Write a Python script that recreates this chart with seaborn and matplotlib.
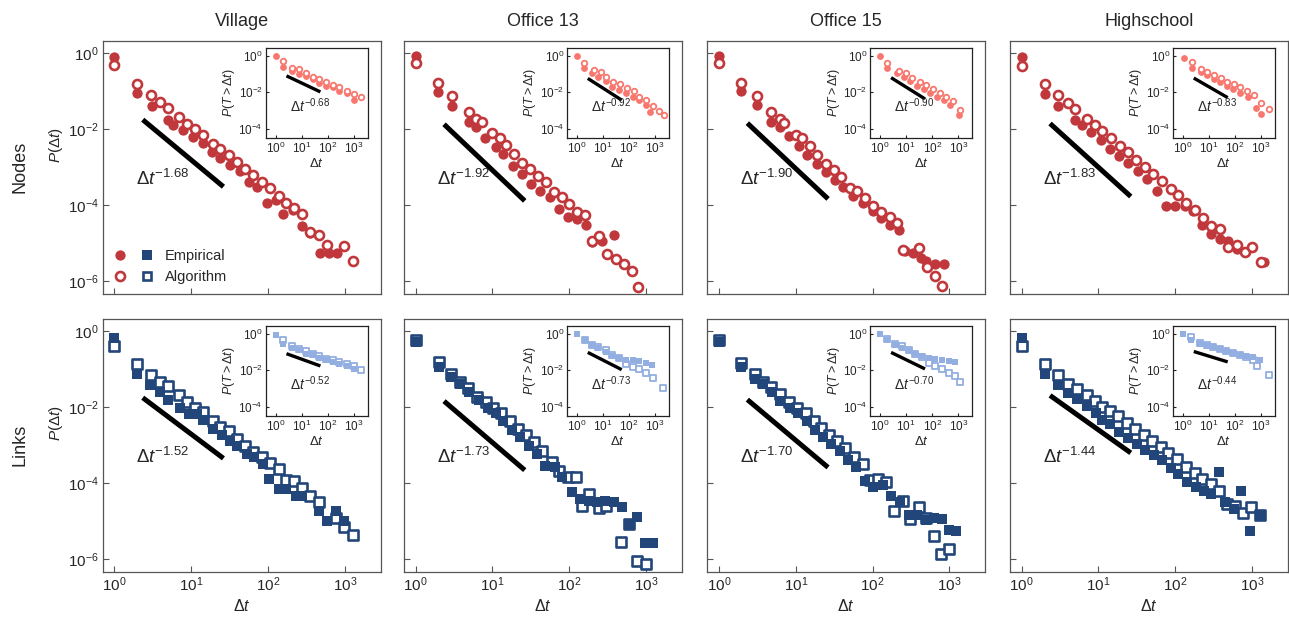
import numpy as np
import matplotlib
matplotlib.use("Agg")
import matplotlib.pyplot as plt
import seaborn as sns
from matplotlib.lines import Line2D
from matplotlib.legend_handler import HandlerTuple
from matplotlib.ticker import NullLocator

# Column / row names
datasets = ["Village", "Office 13", "Office 15", "Highschool"]
rows = ["Nodes", "Links"]

# fitted exponents printed on the panels
node_exp = [1.68, 1.92, 1.90, 1.83]
link_exp = [1.52, 1.73, 1.70, 1.44]
node_cc_exp = [0.68, 0.92, 0.90, 0.83]
link_cc_exp = [0.52, 0.73, 0.70, 0.44]

# ---- main panels: log10(dt), log10(P(dt)) ----
# Village, nodes
vn_emp_x = [0, 0.30, 0.49, 0.70, 0.77, 0.89, 1.03, 1.15, 1.27, 1.38, 1.51, 1.63, 1.75, 1.86, 1.99, 2.10, 2.20, 2.33, 2.44, 2.55, 2.68, 2.79, 2.90]
vn_emp_y = [-0.09, -1.05, -1.39, -1.75, -1.89, -2.02, -2.21, -2.37, -2.61, -2.76, -2.94, -3.11, -3.38, -3.51, -3.95, -3.86, -4.24, -4.12, -4.56, -4.74, -5.25, -5.25, -5.25]
vn_alg_x = [0, 0.30, 0.48, 0.60, 0.70, 0.84, 0.95, 1.05, 1.15, 1.28, 1.38, 1.49, 1.60, 1.70, 1.81, 1.92, 2.03, 2.14, 2.24, 2.34, 2.44, 2.55, 2.66, 2.77, 2.99, 3.10]
vn_alg_y = [-0.32, -0.80, -1.09, -1.28, -1.43, -1.68, -1.87, -2.00, -2.16, -2.38, -2.53, -2.68, -2.85, -3.05, -3.21, -3.40, -3.56, -3.75, -3.93, -4.08, -4.24, -4.70, -4.78, -5.04, -5.07, -5.48]
# Office 13, nodes
o13n_emp_x = [0, 0.29, 0.47, 0.70, 0.78, 0.90, 1.04, 1.14, 1.27, 1.39, 1.50, 1.62, 1.75, 1.86, 1.98, 2.10, 2.22, 2.29, 2.43, 2.58]
o13n_emp_y = [-0.07, -1.01, -1.38, -1.82, -1.94, -2.22, -2.48, -2.66, -2.98, -3.17, -3.44, -3.63, -3.79, -4.10, -4.30, -4.36, -4.51, -4.98, -4.93, -4.78]
o13n_alg_x = [0, 0.29, 0.47, 0.70, 0.78, 0.86, 1.00, 1.10, 1.17, 1.28, 1.39, 1.49, 1.59, 1.70, 1.80, 1.90, 2.00, 2.10, 2.21, 2.29, 2.38, 2.49, 2.61, 2.71, 2.82, 2.90]
o13n_alg_y = [-0.25, -0.79, -1.12, -1.54, -1.72, -1.81, -2.10, -2.22, -2.42, -2.64, -2.89, -3.04, -3.22, -3.39, -3.66, -3.79, -3.96, -4.17, -4.26, -4.95, -4.80, -5.29, -5.42, -5.55, -5.73, -6.15]
# Office 15, nodes
o15n_emp_x = [0, 0.29, 0.49, 0.68, 0.79, 0.91, 1.04, 1.14, 1.27, 1.39, 1.51, 1.62, 1.74, 1.88, 2.00, 2.11, 2.23, 2.34, 2.42, 2.52, 2.63, 2.70, 2.81, 2.93]
o15n_emp_y = [-0.07, -0.99, -1.37, -1.81, -1.94, -2.19, -2.45, -2.69, -2.91, -3.13, -3.34, -3.53, -3.75, -3.93, -4.15, -4.35, -4.52, -4.66, -5.21, -5.25, -5.38, -5.47, -5.56, -5.56]
o15n_alg_x = [0, 0.29, 0.49, 0.68, 0.79, 0.85, 1.00, 1.08, 1.18, 1.28, 1.39, 1.50, 1.59, 1.71, 1.80, 1.90, 2.00, 2.11, 2.22, 2.32, 2.39, 2.60, 2.71, 2.81, 2.90]
o15n_alg_y = [-0.25, -0.79, -1.12, -1.54, -1.72, -1.83, -2.14, -2.23, -2.43, -2.67, -2.91, -3.07, -3.25, -3.55, -3.62, -3.82, -4.02, -4.17, -4.32, -4.46, -5.19, -5.12, -5.63, -5.87, -6.13]
# Highschool, nodes
hsn_emp_x = [0, 0.30, 0.48, 0.70, 0.78, 0.90, 1.03, 1.15, 1.27, 1.38, 1.51, 1.63, 1.76, 1.88, 2.00, 2.12, 2.23, 2.35, 2.46, 2.58, 2.69, 2.80, 2.91, 3.15]
hsn_emp_y = [-0.11, -1.07, -1.38, -1.76, -1.89, -2.07, -2.29, -2.51, -2.70, -2.90, -3.10, -3.30, -3.63, -4.02, -4.02, -4.02, -4.16, -4.53, -4.75, -4.88, -4.95, -5.15, -5.23, -5.50]
hsn_alg_x = [0, 0.30, 0.48, 0.61, 0.69, 0.85, 0.96, 1.05, 1.16, 1.28, 1.38, 1.49, 1.60, 1.71, 1.83, 1.94, 2.04, 2.14, 2.25, 2.36, 2.47, 2.58, 2.69, 2.80, 2.91, 3.00, 3.11]
hsn_alg_y = [-0.33, -0.81, -1.10, -1.30, -1.47, -1.73, -1.89, -2.05, -2.23, -2.44, -2.59, -2.81, -2.99, -3.17, -3.37, -3.58, -3.74, -3.93, -4.12, -4.34, -4.55, -4.62, -5.10, -5.06, -5.23, -5.10, -5.50]
# Village, links
vl_emp_x = [0, 0.29, 0.47, 0.59, 0.70, 0.85, 0.97, 1.07, 1.16, 1.28, 1.40, 1.51, 1.60, 1.72, 1.82, 1.94, 2.01, 2.14, 2.24, 2.36, 2.44, 2.66, 2.77, 2.88, 2.99]
vl_emp_y = [-0.17, -1.13, -1.42, -1.60, -1.80, -2.01, -2.17, -2.19, -2.33, -2.57, -2.72, -2.88, -3.03, -3.23, -3.32, -3.49, -3.89, -4.15, -4.15, -4.33, -4.35, -4.72, -5.00, -4.74, -5.00]
vl_alg_x = [0, 0.30, 0.48, 0.60, 0.70, 0.84, 0.95, 1.05, 1.15, 1.28, 1.38, 1.49, 1.60, 1.70, 1.81, 1.92, 2.03, 2.14, 2.24, 2.34, 2.44, 2.55, 2.66, 2.88, 2.99, 3.10]
vl_alg_y = [-0.39, -0.87, -1.14, -1.34, -1.45, -1.69, -1.86, -2.01, -2.13, -2.37, -2.52, -2.63, -2.83, -3.03, -3.18, -3.32, -3.47, -3.62, -3.91, -3.93, -4.12, -4.35, -4.50, -4.92, -5.16, -5.36]
# Office 13, links
o13l_emp_x = [0, 0.30, 0.46, 0.58, 0.70, 0.82, 0.94, 1.04, 1.14, 1.25, 1.36, 1.47, 1.58, 1.69, 1.81, 1.91, 2.03, 2.14, 2.25, 2.36, 2.47, 2.58, 2.68, 2.77, 2.88, 2.99, 3.09]
o13l_emp_y = [-0.28, -0.94, -1.20, -1.38, -1.60, -1.82, -2.02, -2.15, -2.37, -2.59, -2.79, -3.01, -3.23, -3.54, -3.58, -3.84, -4.24, -4.42, -4.46, -4.50, -4.46, -4.50, -4.62, -5.07, -4.88, -5.58, -5.58]
o13l_alg_x = [0, 0.30, 0.46, 0.58, 0.68, 0.80, 0.91, 1.01, 1.11, 1.23, 1.33, 1.43, 1.54, 1.64, 1.77, 1.87, 1.98, 2.09, 2.17, 2.26, 2.38, 2.48, 2.67, 2.77, 2.88, 3.00]
o13l_alg_y = [-0.24, -0.81, -1.12, -1.34, -1.49, -1.72, -1.86, -2.01, -2.15, -2.37, -2.57, -2.72, -2.92, -3.14, -3.45, -3.67, -3.83, -3.84, -4.59, -4.28, -4.64, -4.59, -5.56, -5.07, -6.04, -6.13]
# Office 15, links
o15l_emp_x = [0, 0.29, 0.47, 0.58, 0.69, 0.80, 0.92, 1.03, 1.14, 1.25, 1.36, 1.46, 1.58, 1.68, 1.78, 1.90, 2.01, 2.13, 2.24, 2.36, 2.47, 2.58, 2.70, 2.80, 2.90, 3.00, 3.09]
o15l_emp_y = [-0.28, -0.94, -1.25, -1.40, -1.60, -1.84, -2.01, -2.15, -2.37, -2.59, -2.79, -2.98, -3.14, -3.40, -3.58, -3.93, -4.11, -4.04, -4.33, -4.50, -4.83, -4.85, -4.97, -4.92, -4.94, -5.23, -5.27]
o15l_alg_x = [0, 0.29, 0.47, 0.58, 0.68, 0.79, 0.91, 1.02, 1.13, 1.24, 1.33, 1.43, 1.54, 1.64, 1.76, 1.87, 1.97, 2.07, 2.18, 2.28, 2.39, 2.48, 2.60, 2.69, 2.80, 2.89, 2.99]
o15l_alg_y = [-0.24, -0.84, -1.12, -1.34, -1.47, -1.64, -1.86, -2.01, -2.15, -2.37, -2.54, -2.72, -2.88, -3.07, -3.32, -3.49, -3.91, -3.89, -3.98, -4.72, -4.46, -4.94, -4.62, -4.92, -5.38, -5.87, -5.73]
# Highschool, links
hsl_emp_x = [0, 0.30, 0.47, 0.61, 0.72, 0.85, 0.97, 1.05, 1.15, 1.27, 1.38, 1.50, 1.61, 1.72, 1.83, 1.94, 2.04, 2.15, 2.27, 2.37, 2.47, 2.57, 2.64, 2.76, 2.86, 2.97, 3.10]
hsl_emp_y = [-0.17, -1.12, -1.42, -1.63, -1.78, -1.98, -2.15, -2.33, -2.44, -2.66, -2.81, -2.98, -3.12, -3.25, -3.40, -3.60, -3.77, -3.98, -4.11, -4.20, -4.28, -3.71, -4.50, -4.68, -4.20, -5.25, -4.85]
hsl_alg_x = [0, 0.30, 0.47, 0.60, 0.72, 0.85, 0.96, 1.04, 1.15, 1.26, 1.37, 1.48, 1.59, 1.70, 1.82, 1.91, 2.02, 2.14, 2.25, 2.35, 2.46, 2.57, 2.67, 2.78, 2.88, 2.98, 3.10]
hsl_alg_y = [-0.39, -0.87, -1.14, -1.38, -1.51, -1.69, -1.84, -2.00, -2.10, -2.22, -2.42, -2.57, -2.72, -2.89, -3.05, -3.21, -3.36, -3.58, -3.74, -3.89, -4.02, -4.21, -4.55, -4.59, -4.79, -4.62, -4.85]

# ---- insets: log10(dt), log10(P(T > dt)) ----
vn_cc_emp_x = [0, 0.27, 0.62, 0.90, 1.15, 1.42, 1.67, 1.94, 2.19, 2.45, 2.73, 3.01]
vn_cc_emp_y = [0, -0.59, -0.83, -1.01, -1.10, -1.28, -1.47, -1.65, -1.74, -1.93, -2.06, -2.42]
vn_cc_alg_x = [0.27, 0.62, 0.90, 1.15, 1.42, 1.67, 1.94, 2.19, 2.45, 2.73, 3.01, 3.28]
vn_cc_alg_y = [-0.28, -0.64, -0.73, -0.92, -1.14, -1.25, -1.43, -1.58, -1.74, -1.93, -2.11, -2.29]
o13n_cc_emp_x = [0, 0.27, 0.58, 0.82, 1.10, 1.36, 1.62, 1.90, 2.16, 2.40, 2.66, 2.79]
o13n_cc_emp_y = [0, -0.64, -0.96, -1.18, -1.38, -1.69, -1.87, -2.05, -2.24, -2.45, -2.69, -3.07]
o13n_cc_alg_x = [0.27, 0.66, 0.92, 1.10, 1.40, 1.66, 1.92, 2.18, 2.40, 2.66, 2.92, 3.16, 3.35]
o13n_cc_alg_y = [-0.38, -0.78, -0.91, -1.18, -1.42, -1.55, -1.78, -1.96, -2.24, -2.45, -2.78, -3.05, -3.25]
o15n_cc_emp_x = [0, 0.28, 0.64, 0.90, 1.15, 1.41, 1.67, 1.92, 2.18, 2.44, 2.69, 3.01]
o15n_cc_emp_y = [0, -0.64, -0.96, -1.18, -1.38, -1.65, -1.84, -2.02, -2.24, -2.45, -2.69, -3.24]
o15n_cc_alg_x = [0.28, 0.73, 0.99, 1.24, 1.51, 1.76, 2.03, 2.28, 2.54, 2.79, 3.05]
o15n_cc_alg_y = [-0.38, -0.82, -0.96, -1.24, -1.42, -1.62, -1.84, -2.05, -2.24, -2.47, -2.96]
hsn_cc_emp_x = [0.04, 0.34, 0.69, 0.94, 1.19, 1.44, 1.69, 1.94, 2.21, 2.50, 2.79, 3.00]
hsn_cc_emp_y = [-0.09, -0.66, -0.87, -1.08, -1.25, -1.43, -1.65, -1.83, -2.03, -2.26, -2.87, -3.22]
hsn_cc_alg_x = [0.34, 0.71, 0.94, 1.21, 1.46, 1.71, 1.96, 2.21, 2.46, 2.71, 3.00, 3.29]
hsn_cc_alg_y = [-0.35, -0.70, -0.87, -1.04, -1.22, -1.43, -1.57, -1.74, -1.95, -2.17, -2.61, -2.90]
vl_cc_emp_x = [0, 0.27, 0.62, 0.90, 1.15, 1.42, 1.67, 1.94, 2.19, 2.45, 2.73, 3.01]
vl_cc_emp_y = [-0.04, -0.55, -0.76, -0.91, -1.09, -1.18, -1.31, -1.45, -1.55, -1.64, -1.78, -1.91]
vl_cc_alg_x = [0.27, 0.62, 0.90, 1.15, 1.42, 1.67, 1.94, 2.19, 2.45, 2.73, 3.01, 3.28]
vl_cc_alg_y = [-0.36, -0.64, -0.82, -0.95, -1.09, -1.24, -1.36, -1.45, -1.55, -1.64, -1.78, -2.00]
o13l_cc_emp_x = [0, 0.30, 0.58, 0.82, 1.10, 1.36, 1.62, 1.90, 2.16, 2.40, 2.66, 2.90]
o13l_cc_emp_y = [0, -0.33, -0.60, -0.78, -1.02, -1.20, -1.33, -1.42, -1.45, -1.51, -1.60, -1.69]
o13l_cc_alg_x = [0.30, 0.58, 0.82, 1.10, 1.36, 1.62, 1.90, 2.16, 2.40, 2.66, 2.92, 3.31]
o13l_cc_alg_y = [-0.36, -0.60, -0.73, -0.91, -1.15, -1.33, -1.64, -1.82, -1.96, -2.18, -2.42, -2.96]
o15l_cc_emp_x = [0, 0.28, 0.58, 0.83, 1.09, 1.35, 1.60, 1.86, 2.12, 2.37, 2.63, 2.88]
o15l_cc_emp_y = [0, -0.33, -0.60, -0.78, -0.96, -1.09, -1.20, -1.33, -1.38, -1.42, -1.47, -1.55]
o15l_cc_alg_x = [0.28, 0.58, 0.83, 1.09, 1.35, 1.60, 1.86, 2.12, 2.37, 2.63, 2.88, 3.05]
o15l_cc_alg_y = [-0.29, -0.55, -0.69, -0.87, -1.09, -1.27, -1.60, -1.78, -1.96, -2.15, -2.33, -2.64]
hsl_cc_emp_x = [0, 0.32, 0.66, 0.91, 1.16, 1.42, 1.67, 1.92, 2.18, 2.43, 2.68, 2.97]
hsl_cc_emp_y = [0, -0.33, -0.55, -0.66, -0.73, -0.84, -0.97, -1.06, -1.16, -1.21, -1.30, -1.43]
hsl_cc_alg_x = [0.32, 0.66, 0.91, 1.16, 1.42, 1.67, 1.92, 2.18, 2.43, 2.68, 2.85, 3.29]
hsl_cc_alg_y = [-0.18, -0.51, -0.61, -0.70, -0.84, -0.97, -1.06, -1.16, -1.25, -1.43, -1.76, -2.26]

# where each guide line starts (log10 P at its left end)
node_line_y0 = [-1.75, -1.87, -1.84, -1.85]
link_line_y0 = [-1.75, -1.84, -1.80, -1.69]
node_cc_line_y0 = [-1.10, -1.24, -1.20, -1.22]
link_cc_line_y0 = [-1.09, -1.02, -1.02, -0.97]

main_data = [
    [(vn_emp_x, vn_emp_y, vn_alg_x, vn_alg_y), (o13n_emp_x, o13n_emp_y, o13n_alg_x, o13n_alg_y),
     (o15n_emp_x, o15n_emp_y, o15n_alg_x, o15n_alg_y), (hsn_emp_x, hsn_emp_y, hsn_alg_x, hsn_alg_y)],
    [(vl_emp_x, vl_emp_y, vl_alg_x, vl_alg_y), (o13l_emp_x, o13l_emp_y, o13l_alg_x, o13l_alg_y),
     (o15l_emp_x, o15l_emp_y, o15l_alg_x, o15l_alg_y), (hsl_emp_x, hsl_emp_y, hsl_alg_x, hsl_alg_y)],
]
inset_data = [
    [(vn_cc_emp_x, vn_cc_emp_y, vn_cc_alg_x, vn_cc_alg_y), (o13n_cc_emp_x, o13n_cc_emp_y, o13n_cc_alg_x, o13n_cc_alg_y),
     (o15n_cc_emp_x, o15n_cc_emp_y, o15n_cc_alg_x, o15n_cc_alg_y), (hsn_cc_emp_x, hsn_cc_emp_y, hsn_cc_alg_x, hsn_cc_alg_y)],
    [(vl_cc_emp_x, vl_cc_emp_y, vl_cc_alg_x, vl_cc_alg_y), (o13l_cc_emp_x, o13l_cc_emp_y, o13l_cc_alg_x, o13l_cc_alg_y),
     (o15l_cc_emp_x, o15l_cc_emp_y, o15l_cc_alg_x, o15l_cc_alg_y), (hsl_cc_emp_x, hsl_cc_emp_y, hsl_cc_alg_x, hsl_cc_alg_y)],
]
exps = [node_exp, link_exp]
cc_exps = [node_cc_exp, link_cc_exp]
line_y0 = [node_line_y0, link_line_y0]
cc_line_y0 = [node_cc_line_y0, link_cc_line_y0]

# style
sns.set_style("ticks")
plt.rcParams["font.family"] = ["Liberation Sans", "DejaVu Sans"]
plt.rcParams["mathtext.fontset"] = "custom"
plt.rcParams["mathtext.rm"] = "Liberation Sans"
plt.rcParams["mathtext.it"] = "Liberation Sans:italic"
plt.rcParams["mathtext.bf"] = "Liberation Sans:bold"

RED, BLUE = "#c1383c", "#23467a"
PINK, LBLUE = "#f8776e", "#93aee0"
main_colors = [RED, BLUE]
cc_colors = [PINK, LBLUE]
markers = ["o", "s"]
# nodes: open circles drawn over filled ones; links: filled squares on top
fill_on_top = [False, True]

FW, FH = 1289, 617
lefts = [102.7, 404.0, 707.3, 1010.0]
tops = [40.7, 318.7]
AW, AH = 278, 253

fig = plt.figure(figsize=(FW / 100, FH / 100), dpi=100)


def style_axis(ax, spine_color, tick_len, label_size):
    for s in ax.spines.values():
        s.set_visible(True)
        s.set_color(spine_color)
        s.set_linewidth(0.9)
    ax.tick_params(direction="in", length=tick_len, width=0.8, labelsize=label_size,
                   top=False, right=False, color=spine_color, pad=3)
    ax.xaxis.set_minor_locator(NullLocator())
    ax.yaxis.set_minor_locator(NullLocator())


def scatter_pair(ax, ex, ey, ax_, ay_, color, marker, s_fill, s_open, lw, top_fill):
    zf, zo = (5, 4) if top_fill else (3, 4)
    sns.scatterplot(x=10 ** np.array(ex), y=10 ** np.array(ey), ax=ax, marker=marker,
                    s=s_fill, color=color, edgecolor=color, linewidth=0, zorder=zf)
    sns.scatterplot(x=10 ** np.array(ax_), y=10 ** np.array(ay_), ax=ax, marker=marker,
                    s=s_open, color=color, facecolor="white", edgecolor=color,
                    linewidth=lw, zorder=zo)


for r in range(2):
    for c in range(4):
        ax = fig.add_axes([lefts[c] / FW, 1 - (tops[r] + AH) / FH, AW / FW, AH / FH])
        ax.set_xscale("log")
        ax.set_yscale("log")
        ex, ey, gx, gy = main_data[r][c]
        scatter_pair(ax, ex, ey, gx, gy, main_colors[r], markers[r], 55, 42, 1.9, fill_on_top[r])

        # guide line + exponent
        a = exps[r][c]
        x0, x1 = 10 ** 0.37, 10 ** 1.42
        y0 = 10 ** line_y0[r][c]
        ax.plot([x0, x1], [y0, y0 * (x1 / x0) ** (-a)], color="k", lw=3.6,
                solid_capstyle="butt", zorder=2)
        ax.text(10 ** 0.28, 10 ** -3.3, r"$\Delta t^{-%.2f}$" % a, fontsize=13.5,
                ha="left", va="center")

        ax.set_xlim(10 ** -0.151, 10 ** 3.466)
        ax.set_ylim(10 ** -6.33, 10 ** 0.33)
        ax.set_xticks([1, 10, 100, 1000])
        ax.set_yticks([1, 1e-2, 1e-4, 1e-6])
        style_axis(ax, "#555555", 4, 11)
        ax.set_xlabel("")
        ax.set_ylabel("")
        if r == 0:
            ax.tick_params(labelbottom=False)
            fig.text((lefts[c] + AW / 2) / FW, 1 - 22 / FH, datasets[c], fontsize=13,
                     ha="center", va="center")
        else:
            ax.set_xlabel(r"$\Delta t$", fontsize=11.5)
            ax.xaxis.set_label_coords(0.5, -0.105)
            ax.xaxis.label.set_va("top")
        if c == 0:
            ax.set_ylabel(r"$P(\Delta t)$", fontsize=11)
            ax.yaxis.set_label_coords(-0.135, 0.588)
            fig.text(20 / FW, 1 - (tops[r] + AH / 2) / FH, rows[r], fontsize=13,
                     rotation=90, ha="center", va="center")
        else:
            ax.tick_params(labelleft=False)

        # inset with the cumulative distribution
        ins = ax.inset_axes([0.586, 0.617, 0.367, 0.356])
        ins.set_xscale("log")
        ins.set_yscale("log")
        cx, cy, hx, hy = inset_data[r][c]
        scatter_pair(ins, cx, cy, hx, hy, cc_colors[r], markers[r], 24, 16, 1.3, fill_on_top[r])
        b = cc_exps[r][c]
        u0, u1 = 10 ** 0.42, 10 ** 1.72
        v0 = 10 ** cc_line_y0[r][c]
        ins.plot([u0, u1], [v0, v0 * (u1 / u0) ** (-b)], color="k", lw=2.4,
                 solid_capstyle="butt", zorder=2)
        ins.text(10 ** 0.55, 10 ** -2.75, r"$\Delta t^{-%.2f}$" % b, fontsize=10,
                 ha="left", va="center")
        ins.set_xlim(10 ** -0.38, 10 ** 3.53)
        ins.set_ylim(10 ** -4.5, 10 ** 0.46)
        ins.set_xticks([1, 10, 100, 1000])
        ins.set_yticks([1, 1e-2, 1e-4])
        style_axis(ins, "#222222", 2.5, 8.5)
        ins.tick_params(pad=2)
        ins.set_xlabel(r"$\Delta t$", fontsize=9.5, labelpad=1)
        ins.set_ylabel(r"$P(T > \Delta t)$", fontsize=9, labelpad=1)

        if r == 0 and c == 0:
            h_emp = (Line2D([], [], ls="", marker="o", ms=7.4, mfc=RED, mec=RED, mew=0),
                     Line2D([], [], ls="", marker="s", ms=7.2, mfc=BLUE, mec=BLUE, mew=0))
            h_alg = (Line2D([], [], ls="", marker="o", ms=6.5, mfc="white", mec=RED, mew=1.9),
                     Line2D([], [], ls="", marker="s", ms=6.3, mfc="white", mec=BLUE, mew=1.9))
            ax.legend([h_emp, h_alg], ["Empirical", "Algorithm"],
                      handler_map={tuple: HandlerTuple(ndivide=None, pad=0.82)},
                      loc="lower left", frameon=False, fontsize=10.5, handlelength=2.88,
                      handletextpad=0.72, borderaxespad=0.25, labelspacing=0.5)

fig.savefig("out.png", dpi=100)
